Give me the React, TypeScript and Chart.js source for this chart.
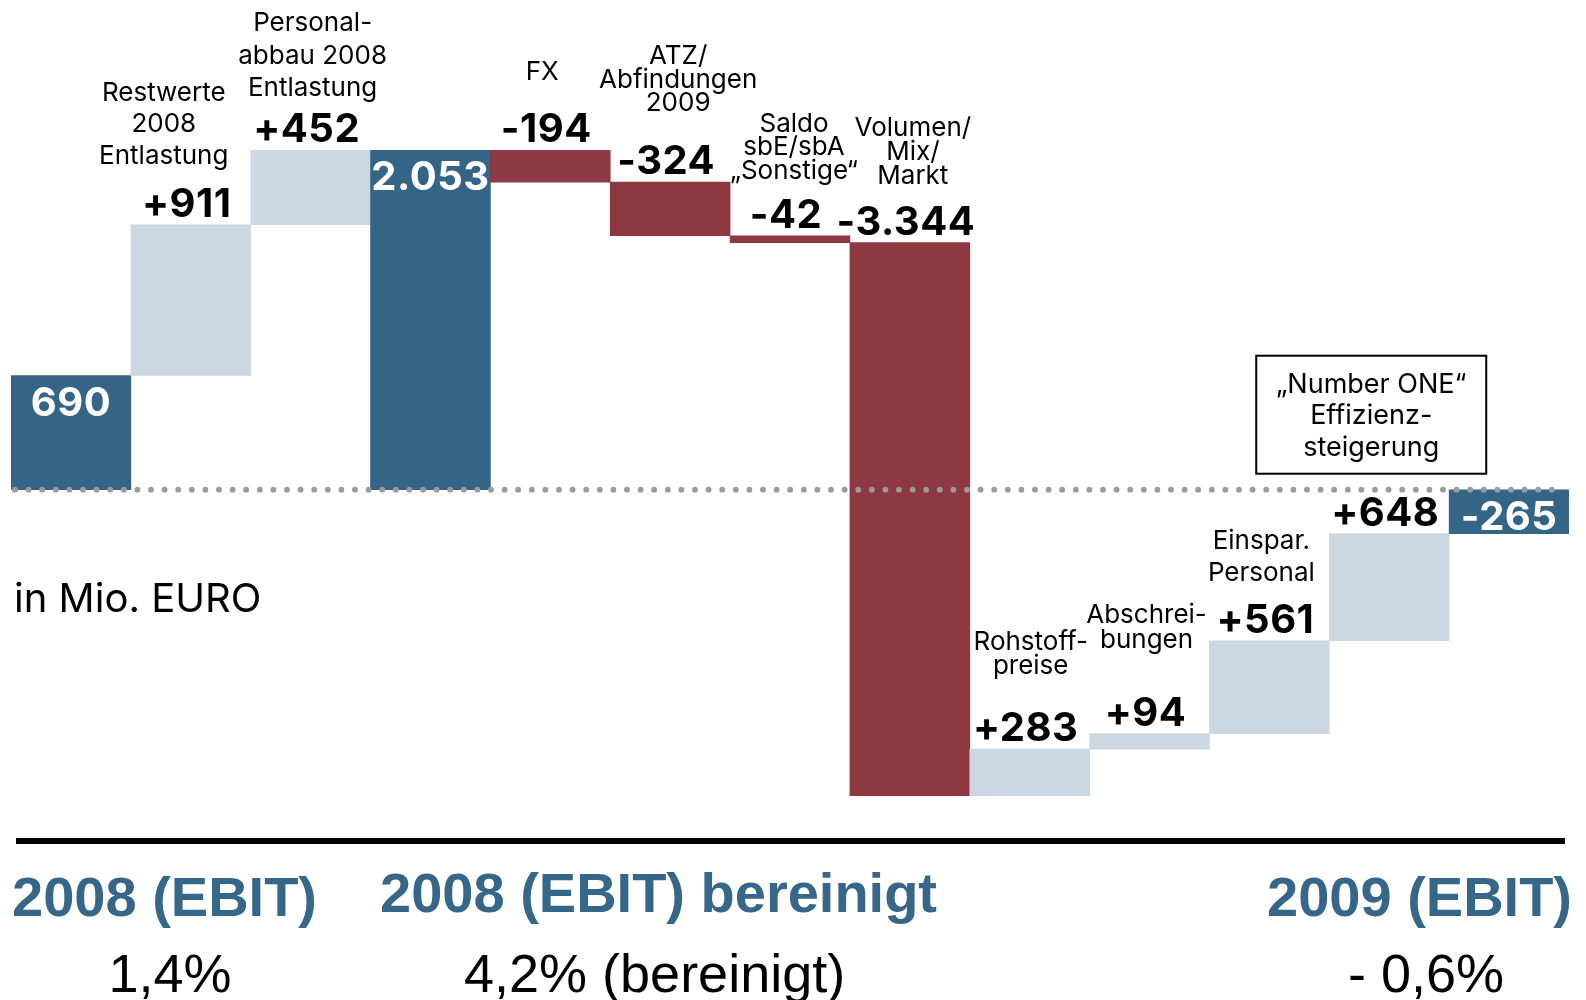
import React, { useEffect, useRef } from "react";
import { Chart, registerables } from "chart.js";

Chart.register(...registerables);

// ---------- data ----------
const CATEGORIES: string[] = [
  "2008 (EBIT)",
  "Restwerte 2008 Entlastung",
  "Personalabbau 2008 Entlastung",
  "2008 (EBIT) bereinigt",
  "FX",
  "ATZ/Abfindungen 2009",
  "Saldo sbE/sbA „Sonstige“",
  "Volumen/Mix/Markt",
  "Rohstoffpreise",
  "Abschreibungen",
  "Einspar. Personal",
  "„Number ONE“ Effizienzsteigerung",
  "2009 (EBIT)",
];
const VALUES: number[] = [690, 911, 452, 2053, -194, -324, -42, -3344, 283, 94, 561, 648, -265];
const IS_TOTAL: boolean[] = [true, false, false, true, false, false, false, false, false, false, false, false, true];

// label text shown above bars (line-broken as in the original)
const CATEGORY_LINES: string[][] = [
  [],
  ["Restwerte", "2008", "Entlastung"],
  ["Personal-", "abbau 2008", "Entlastung"],
  [],
  ["FX"],
  ["ATZ/", "Abfindungen", "2009"],
  ["Saldo", "sbE/sbA", "„Sonstige“"],
  ["Volumen/", "Mix/", "Markt"],
  ["Rohstoff-", "preise"],
  ["Abschrei-", "bungen"],
  ["Einspar.", "Personal"],
  [],
  [],
];
const BOX_INDEX = 11;
const BOX_LINES: string[] = ["„Number ONE“", "Effizienz-", "steigerung"];

const FOOTER_TITLES: string[] = ["2008 (EBIT)", "2008 (EBIT) bereinigt", "2009 (EBIT)"];
const FOOTER_MARGINS: string[] = ["1,4%", "4,2% (bereinigt)", "- 0,6%"];
const UNIT_LABEL = "in Mio. EURO";

// ---------- layout / style (not data) ----------
const LABEL_GAP: number[] = [0, 53, 46, 0, 62, 63, 49, 51, 67, 78, 52, 0, 0];
const LABEL_LH: number[] = [0, 31.5, 32.5, 0, 0, 23.5, 23.5, 24, 24, 25, 32, 0, 0];
const LABEL_DX: number[] = [0, -27, 2, 0, -8, 8, 4, 3, 1, -3, -8, 0, 0];

const BLUE = "#346587";
const LIGHT = "#CBD8E1";
const RED = "#8E3842";
const TEXT_BLUE = "#366789";

function fmt(v: number, total: boolean): string {
  const s = Math.abs(v).toString().replace(/\B(?=(\d{3})+(?!\d))/g, ".");
  const sign = v < 0 ? "-" : total ? "" : "+";
  return sign + s;
}

// floating bar ranges from the running total
const RANGES: [number, number][] = [];
{
  let run = 0;
  VALUES.forEach((v, i) => {
    if (IS_TOTAL[i]) {
      RANGES.push([0, v]);
      run = v;
    } else {
      RANGES.push([run, run + v]);
      run += v;
    }
  });
}
const COLORS = VALUES.map((v, i) => (IS_TOTAL[i] ? BLUE : v >= 0 ? LIGHT : RED));
const Y_MAX = Math.max(...RANGES.map((r) => Math.max(r[0], r[1])));
const Y_MIN = Math.min(...RANGES.map((r) => Math.min(r[0], r[1])));

const labelPlugin = {
  id: "waterfallLabels",
  afterDatasetsDraw(chart: any) {
    const ctx = chart.ctx as any;
    const meta = chart.getDatasetMeta(0);
    const yScale = chart.scales.y;
    const zeroY = yScale.getPixelForValue(0);
    ctx.save();

    // dotted zero line
    ctx.fillStyle = "#9b9b9b";
    for (let x = 15; x <= 1560; x += 13.6) {
      ctx.beginPath();
      ctx.arc(x, zeroY, 2.9, 0, Math.PI * 2);
      ctx.fill();
    }

    ctx.textAlign = "center";
    ctx.textBaseline = "alphabetic";
    meta.data.forEach((el: any, i: number) => {
      const p = el.getProps(["x", "y", "base"], true);
      const top = Math.min(p.y, p.base);
      const txt = fmt(VALUES[i], IS_TOTAL[i]);
      ctx.font = "bold 40px Inter";
      ctx.letterSpacing = "0.5px";
      if (IS_TOTAL[i]) {
        ctx.fillStyle = "#ffffff";
        ctx.fillText(txt, p.x, top + 40);
        ctx.letterSpacing = "0px";
        return;
      }
      const vBase = top - 8;
      ctx.fillStyle = "#000000";
      ctx.fillText(txt, p.x - 4, vBase);
      ctx.letterSpacing = "0px";

      const lines = CATEGORY_LINES[i];
      if (lines.length) {
        ctx.font = "26px Inter";
        const last = vBase - LABEL_GAP[i];
        const n = lines.length;
        lines.forEach((ln, k) => {
          ctx.fillText(ln, p.x + LABEL_DX[i], last - (n - 1 - k) * LABEL_LH[i]);
        });
      }
      if (i === BOX_INDEX) {
        const cx = p.x - 18;
        const bottom = zeroY - 16;
        const w = 230;
        const h = 118;
        ctx.lineWidth = 2;
        ctx.strokeStyle = "#000";
        ctx.strokeRect(cx - w / 2, bottom - h, w, h);
        ctx.font = "27px Inter";
        ctx.fillStyle = "#000";
        const offs = [81, 50, 18];
        BOX_LINES.forEach((ln, k) => ctx.fillText(ln, cx, bottom - offs[k]));
      }
    });
    ctx.restore();
  },
};

type TxtProps = {
  text: string;
  x: number;
  baseline: number;
  size: number;
  weight?: number;
  color?: string;
  family: "lib" | "inter";
  align: "left" | "center" | "right";
};

function Txt({ text, x, baseline, size, weight = 400, color = "#000", family, align }: TxtProps) {
  const k = family === "lib" ? 0.8465 : 0.863;
  const style: React.CSSProperties = {
    position: "absolute",
    top: baseline - k * size,
    fontSize: size,
    lineHeight: `${size}px`,
    fontWeight: weight,
    color,
    whiteSpace: "nowrap",
    fontFamily: family === "lib" ? "'Liberation Sans', Arial, sans-serif" : "Inter, sans-serif",
  };
  if (align === "left") style.left = x;
  else if (align === "right") style.right = 1586 - x;
  else {
    style.left = x;
    style.transform = "translateX(-50%)";
  }
  return <div style={style}>{text}</div>;
}

export default function App() {
  const ref = useRef<HTMLCanvasElement>(null);
  useEffect(() => {
    const chart = new Chart(ref.current as HTMLCanvasElement, {
      type: "bar",
      data: {
        labels: CATEGORIES,
        datasets: [
          {
            data: RANGES as any,
            backgroundColor: COLORS,
            borderWidth: 0,
            barPercentage: 1,
            categoryPercentage: 1,
          },
        ],
      },
      options: {
        animation: false,
        responsive: false,
        maintainAspectRatio: false,
        layout: { padding: { left: 11, right: 17, top: 150, bottom: 204 } },
        plugins: { legend: { display: false }, tooltip: { enabled: false } },
        scales: {
          x: { display: false },
          y: { display: false, min: Y_MIN, max: Y_MAX },
        },
      },
      plugins: [labelPlugin],
    });
    return () => chart.destroy();
  }, []);

  return (
    <div
      style={{
        position: "absolute",
        left: 0,
        top: 0,
        width: 1586,
        height: 1000,
        background: "#fff",
        overflow: "hidden",
      }}
    >
      <canvas
        ref={ref}
        width={1586}
        height={1000}
        style={{ position: "absolute", left: 0, top: 0, width: 1586, height: 1000 }}
      />
      <Txt text={UNIT_LABEL} x={14} baseline={613} size={40} family="inter" align="left" />
      <div style={{ position: "absolute", left: 16, top: 838, width: 1549, height: 6, background: "#000" }} />
      <Txt text={FOOTER_TITLES[0]} x={12} baseline={916} size={56} weight={700} color={TEXT_BLUE} family="lib" align="left" />
      <Txt text={FOOTER_TITLES[1]} x={380} baseline={912} size={56} weight={700} color={TEXT_BLUE} family="lib" align="left" />
      <Txt text={FOOTER_TITLES[2]} x={1572} baseline={916} size={56} weight={700} color={TEXT_BLUE} family="lib" align="right" />
      <Txt text={FOOTER_MARGINS[0]} x={170} baseline={992} size={54} family="lib" align="center" />
      <Txt text={FOOTER_MARGINS[1]} x={464} baseline={992} size={54} family="lib" align="left" />
      <Txt text={FOOTER_MARGINS[2]} x={1426} baseline={992} size={54} family="lib" align="center" />
    </div>
  );
}
